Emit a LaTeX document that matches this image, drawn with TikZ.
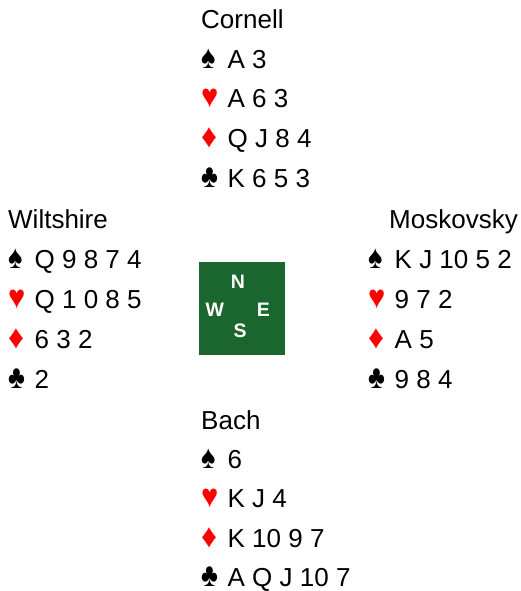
\documentclass[tikz,border=0pt]{standalone}
\usepackage{fontspec}
\usepackage{graphicx}
\setmainfont{Liberation Sans}
\definecolor{compassgreen}{RGB}{26,102,46}
\definecolor{suitred}{RGB}{255,0,0}
\newcommand\suitfnt{\fontsize{33}{30}\selectfont}
\newcommand\bsp{\makebox[26.5pt][l]{\scalebox{0.82}[1]{\suitfnt ♠}}}
\newcommand\bhe{\makebox[26.5pt][l]{\scalebox{0.88}[1]{\suitfnt\textcolor{suitred}{♥}}}}
\newcommand\bdi{\makebox[26.5pt][l]{\scalebox{0.95}[1]{\suitfnt\textcolor{suitred}{♦}}}}
\newcommand\bcl{\makebox[26.5pt][l]{\scalebox{0.78}[1]{\suitfnt ♣}}}
\begin{document}
\begin{tikzpicture}[x=1pt,y=-1pt,
  txt/.style={anchor=base west,inner sep=0pt,font=\fontsize{26}{30}\selectfont},
  txte/.style={anchor=base east,inner sep=0pt,font=\fontsize{26}{30}\selectfont},
  cmp/.style={anchor=base,inner sep=0pt,text=white,font=\fontsize{19.5}{20}\selectfont\bfseries}]
\useasboundingbox (0,0) rectangle (520,591);
% North
\node[txt] (nname) at (201,28.5) {Cornell};
\node[txt] (ns) at (201,68.3) {\bsp A 3};
\node[txt] (nh) at (201,108) {\bhe A 6 3};
\node[txt] (nd) at (201,147.8) {\bdi Q J 8 4};
\node[txt] (nc) at (201,187.5) {\bcl K 6 5 3};
% West
\node[txt] (wname) at (8,228) {Wiltshire};
\node[txt] (ws) at (8,268) {\bsp Q 9 8 7 4};
\node[txt] (wh) at (8,308) {\bhe Q 1 0 8 5};
\node[txt] (wd) at (8,348) {\bdi 6 3 2};
\node[txt] (wc) at (8,388) {\bcl 2};
% East
\node[txte] (ename) at (518,228) {Moskovsky};
\node[txt] (es) at (368,268) {\bsp K J 10 5 2};
\node[txt] (eh) at (368,308) {\bhe 9 7 2};
\node[txt] (ed) at (368,348) {\bdi A 5};
\node[txt] (ec) at (368,388) {\bcl 9 8 4};
% South
\node[txt] (sname) at (201,429) {Bach};
\node[txt] (ss) at (201,468.3) {\bsp 6};
\node[txt] (sh) at (201,507.6) {\bhe K J 4};
\node[txt] (sd) at (201,547) {\bdi K 10 9 7};
\node[txt] (sc) at (201,586) {\bcl A Q J 10 7};
% Compass
\fill[compassgreen] (198.5,261.7) rectangle (285,355);
\node[cmp] (cn) at (238,288.6) {N};
\node[cmp] (cw) at (214.7,316) {W};
\node[cmp] (ce) at (263.3,316) {E};
\node[cmp] (cs) at (240,337.8) {S};
\end{tikzpicture}
\end{document}
